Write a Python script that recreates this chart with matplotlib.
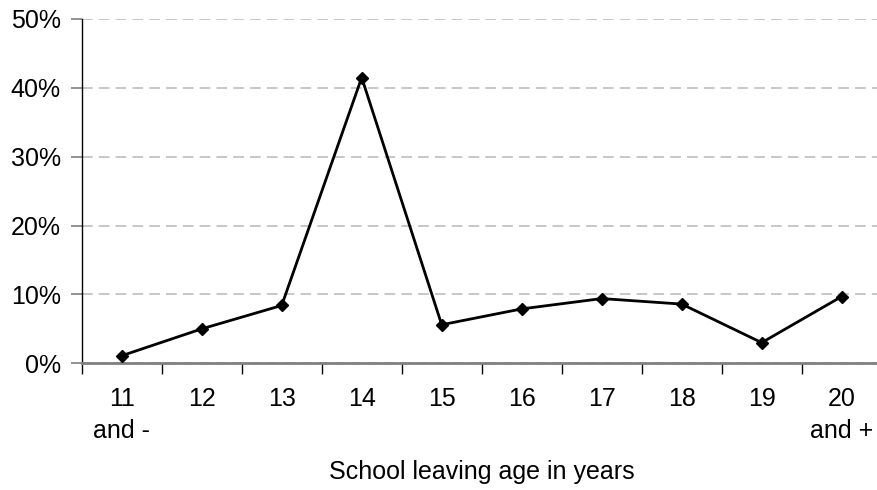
import matplotlib
matplotlib.use("Agg")
import matplotlib.pyplot as plt
from matplotlib.ticker import FixedLocator, PercentFormatter

categories = ["11\nand -", "12", "13", "14", "15", "16", "17", "18", "19", "20\nand +"]
values = [1.1, 5.0, 8.4, 41.5, 5.6, 7.9, 9.4, 8.6, 3.0, 9.7]
yticks = [0, 10, 20, 30, 40, 50]
xlabel = "School leaving age in years"

plt.rcParams['font.family'] = ['Liberation Sans', 'DejaVu Sans']

fig = plt.figure(figsize=(8.77, 4.90), dpi=100)
ax = fig.add_axes([81.7/877, 126.7/490, 800/877, 344.3/490])

x = list(range(len(categories)))
ax.plot(x, values, color='black', linewidth=2.0, marker='D', markersize=6.5,
        markerfacecolor='black', markeredgecolor='black', zorder=3, clip_on=False)

ax.set_xlim(-0.5, len(categories) - 0.5)
ax.set_ylim(0, 50)
ax.set_yticks(yticks)
ax.yaxis.set_major_formatter(PercentFormatter(decimals=0))
ax.yaxis.grid(True, color='#b8b8b8', linestyle=(0, (7, 4)), linewidth=1.1)
ax.set_axisbelow(True)

ax.set_xticks(x)
ax.set_xticklabels(categories, fontsize=18, linespacing=1.45, va='top')
ax.xaxis.set_minor_locator(FixedLocator([i + 0.5 for i in range(-1, len(categories))]))
ax.tick_params(axis='x', which='major', length=0, pad=17)
ax.tick_params(axis='x', which='minor', length=8, width=1, color='black', direction='out')
ax.tick_params(axis='y', labelsize=18, length=8, width=1.2, color='#808080', pad=7)

for s in ['top', 'right']:
    ax.spines[s].set_visible(False)
ax.spines['left'].set_color('black')
ax.spines['left'].set_linewidth(1.0)
ax.spines['bottom'].set_color('#808080')
ax.spines['bottom'].set_linewidth(2.0)

ax.set_xlabel(xlabel, fontsize=18, labelpad=12)

fig.savefig("out.png", dpi=100)
